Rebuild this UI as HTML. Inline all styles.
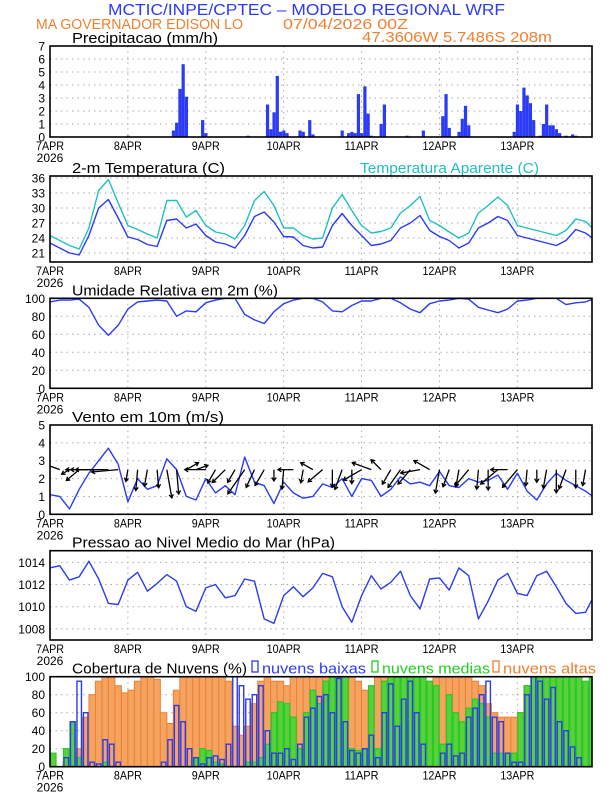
<!DOCTYPE html>
<html><head><meta charset="utf-8">
<style>
html,body{margin:0;padding:0;background:#fff;}
svg{display:block;font-family:"Liberation Sans",sans-serif;}
</style></head>
<body>
<svg id="chart" width="612" height="792" viewBox="0 0 612 792" xmlns="http://www.w3.org/2000/svg">
<defs><clipPath id="plotclip"><rect x="50" y="0" width="542" height="792"/></clipPath></defs>
<text x="108" y="15" fill="#2b3bf5" font-size="16" textLength="397" lengthAdjust="spacingAndGlyphs">MCTIC/INPE/CPTEC – MODELO REGIONAL WRF</text>
<text x="36" y="29" fill="#f08030" font-size="15" textLength="207" lengthAdjust="spacingAndGlyphs">MA GOVERNADOR EDISON LO</text>
<text x="283" y="29" fill="#f08030" font-size="15" textLength="125" lengthAdjust="spacingAndGlyphs">07/04/2026 00Z</text>
<text x="362" y="42" fill="#f08030" font-size="15" textLength="190" lengthAdjust="spacingAndGlyphs">47.3606W 5.7486S 208m</text>
<g id="panels"></g>
</svg>
<script>
// ---------- DATA ----------
const dayLabels = ["7APR","8APR","9APR","10APR","11APR","12APR","13APR"];
const precipHours = [24,38,39,40,41,42,47,48,61,67,68,69,70,71,72,73,77,78,80,81,90,92,93,94,95,96,97,98,99,102,103,110,115,121,122,123,126,127,128,129,143,144,145,146,147,148,149,151,152,153,154,155,156,157,159,161,162];
const precipValues = [0.1,0.5,1.1,3.7,5.6,3.1,1.3,0.3,0.1,2.5,0.6,1.9,4.7,0.4,0.5,0.3,0.5,0.4,1.3,0.2,0.5,0.3,0.4,0.3,3.3,0.3,3.9,1.8,0.1,1.0,2.5,0.1,0.5,1.6,3.3,0.7,0.4,1.4,2.4,0.9,0.4,2.5,2.0,3.8,3.2,2.6,1.3,0.1,1.0,2.5,0.9,0.9,0.6,0.3,0.1,0.2,0.1];
const tempValues = [23,22,21,20.6,24.5,30,31.7,28,24.2,23.7,22.7,22.3,27.5,27.8,26,26.8,24.5,23.2,22.8,22,24.5,28.3,29.2,27.2,24.3,24.2,22.5,22,22.2,26.5,28.9,26.5,24.5,22.5,22.8,23.5,26,27,28.5,25.5,24.3,23.5,22,23,26,27,28.3,27.5,24.5,24,23.5,23,22.5,23.5,25.7,25,23.6];
const apparentValues = [24.5,23.5,22.5,21.8,26,33.5,35.7,31,26.5,25.7,24.8,24,31.5,31.5,28.2,29.5,26.5,25.2,24.8,23.8,26.5,31.5,33.3,30.5,26,26,24.5,23.8,24,30,32.7,29.5,26.5,25,25.3,26,29,30.5,32.3,27.5,26.5,25.2,24,25,29,30.5,32.2,30.5,26.5,26,25.5,25,24.5,25.5,27.8,27.3,25.5];
const humidityValues = [96,98,98,99,90,70,59,70,88,96,97,98,97,80,86,85,95,98,100,100,82,76,72,85,94,98,100,100,96,86,85,92,97,97,100,100,95,88,84,94,97,98,100,99,90,87,84,88,97,98,100,100,100,93,95,96,100];
const windSpeed = [1.1,1.0,0.3,1.4,2.3,3.0,3.7,2.8,0.7,2.0,1.4,1.6,3.1,2.5,1.0,0.8,2.0,1.2,1.6,1.1,3.2,1.8,1.6,0.6,1.8,1.2,0.9,1.0,1.7,1.5,2.0,1.0,2.0,1.9,1.0,1.4,2.1,1.7,1.8,1.6,2.4,1.6,1.5,2.0,1.8,1.9,2.2,1.4,2.3,1.3,0.8,1.7,2.3,1.9,1.6,1.3,0.9];
const windDirection = [190,200,150,140,180,180,180,175,100,95,100,85,80,85,-30,-20,180,120,135,120,125,115,120,90,95,180,100,-150,140,90,110,90,150,-160,-135,120,125,130,170,-150,100,110,100,130,95,90,140,180,130,95,90,100,90,110,90,100,95];
const pressureValues = [1013.5,1013.7,1012.4,1012.7,1014.1,1012.5,1010.3,1010.2,1012.4,1013.1,1011.4,1012.1,1012.9,1012.3,1010.0,1009.6,1011.7,1012.0,1010.8,1011.0,1012.5,1012.3,1008.9,1008.5,1011.0,1011.8,1010.9,1011.7,1013.0,1012.7,1010.0,1008.6,1011.0,1012.8,1011.6,1012.2,1013.2,1011.0,1009.8,1012.5,1012.6,1011.5,1013.5,1012.8,1008.9,1010.5,1012.4,1013.0,1011.2,1011.0,1012.8,1013.2,1011.8,1010.3,1009.4,1009.5,1011.2];
const cloudHigh = [0,0,5,8,20,55,80,95,100,100,90,82,85,95,100,100,97,60,48,85,100,100,100,100,100,100,100,95,45,35,45,70,95,100,95,95,90,100,100,100,100,100,
 100,100,100,100,100,95,85,80,100,100,100,100,100,100,95,92,90,100,100,100,100,100,100,95,90,70,60,55,55,55,60,90,90,90,90,90,90,90,90,90,85,80];
const cloudMid = [15,0,20,50,10,0,0,0,5,0,0,0,0,0,0,0,0,0,0,0,0,0,10,20,18,5,3,0,0,0,5,5,10,25,60,72,70,55,20,60,85,70,
 95,100,100,100,20,18,20,90,20,95,100,100,100,100,100,100,95,90,25,80,60,50,65,75,70,55,15,15,15,15,60,90,100,100,100,100,100,100,100,100,95,100];
const cloudLow = [0,0,10,50,95,60,5,3,30,25,5,0,0,0,0,0,0,5,30,68,50,20,10,3,10,12,8,25,100,90,75,80,90,40,15,15,20,8,25,55,65,78,
 80,60,98,50,18,15,20,35,10,60,92,45,75,95,60,25,0,0,15,25,12,15,55,65,80,95,55,50,15,5,5,80,100,95,75,88,50,40,22,10,0,0];

// ---------- AXES ----------
const X0 = 50, X1 = 592, PXH = 3.2455;
function xh(h){ return X0 + h*PXH; }
const NS = "http://www.w3.org/2000/svg";
const root = document.getElementById('panels');
function el(tag, attrs, parent){
  const e = document.createElementNS(NS, tag);
  for (const k in attrs) e.setAttribute(k, attrs[k]);
  (parent||root).appendChild(e);
  return e;
}
function mkY(top, bottom, vmin, vmax){ return v => bottom - (v - vmin)/(vmax - vmin)*(bottom - top); }

function panel(name, top, bottom, vmin, vmax, ticks, title, titleLen){
  const g = el('g', {});
  
  
  const y = mkY(top, bottom, vmin, vmax);
  ticks.forEach(t => {
    const yy = y(t);
    if (yy > top + 1 && yy < bottom - 1) {
      const l = el('line', {x1:X0, x2:X1, y1:yy, y2:yy, stroke:'#aaa', 'stroke-width':1, 'stroke-dasharray':'1.5,4'}, g);
      
      
    }
    const tl = el('text', {x:45, y:yy+4.5, 'text-anchor':'end', 'font-size':12, fill:'#000'}, g);
    tl.textContent = t;
    
    
  });
  dayLabels.forEach((d, i) => {
    const xx = xh(i*24);
    if (i > 0) {
      const l = el('line', {x1:xx, x2:xx, y1:top, y2:bottom, stroke:'#aaa', 'stroke-width':1, 'stroke-dasharray':'1.5,4'}, g);
      
      
    }
    const tl = el('text', {x:xx, y:bottom+13, 'text-anchor':'middle', 'font-size':12, fill:'#000', textLength: d.length>4?34:28, lengthAdjust:'spacingAndGlyphs'}, g);
    tl.textContent = d;
    
    
  });
  const yr = el('text', {x:50, y:bottom+25, 'text-anchor':'middle', 'font-size':12, fill:'#000'}, g);
  yr.textContent = '2026';
  
  
  const tt = el('text', {x:72, y:top-3, 'font-size':15, fill:'#000', textLength:titleLen, lengthAdjust:'spacingAndGlyphs'}, g);
  tt.textContent = title;
  
  
  const data = el('g', {'clip-path':'url(#plotclip)'}, g);
  
  
  return {g, data, y, top, bottom};
}
function frame(p, name){
  const r = el('rect', {x:X0, y:p.top, width:X1-X0, height:p.bottom-p.top, fill:'none', stroke:'#000', 'stroke-width':1.6}, p.g);
  
  
}
function line(p, vals, step, color, name){
  const pts = vals.map((v,i) => xh(i*step).toFixed(1) + ',' + p.y(v).toFixed(1)).join(' ');
  const l = el('polyline', {points:pts, fill:'none', stroke:color, 'stroke-width':1.4, 'stroke-linejoin':'round'}, p.data);
  
  
}

// Precip
const p1 = panel('precipitation', 46, 137, 0, 7, [0,1,2,3,4,5,6,7], 'Precipitacao (mm/h)', 146);
precipHours.forEach((h, i) => {
  const v = precipValues[i];
  const b = el('rect', {x:xh(h)-1.5, y:p1.y(v), width:3.2, height:p1.bottom - p1.y(v), fill:'#2b3bf5'}, p1.data);
  
  
});
frame(p1, 'precipitation');

// Temperature
const p2 = panel('temperature', 176, 262, 19.2, 36.4, [21,24,27,30,33,36], '2-m Temperatura (C)', 153);
const at = el('text', {x:360, y:173, 'font-size':15, fill:'#20c0c0', textLength:179, lengthAdjust:'spacingAndGlyphs'}, p2.g);
at.textContent = 'Temperatura Aparente (C)';


line(p2, apparentValues, 3, '#20c0c0', 'apparent-temperature-line');
line(p2, tempValues, 3, '#2b3bf5', 'temperature-line');
frame(p2, 'temperature');

// Humidity
const p3 = panel('humidity', 298.3, 388.3, 0, 100, [0,20,40,60,80,100], 'Umidade Relativa em 2m (%)', 206);
line(p3, humidityValues, 3, '#2b3bf5', 'humidity-line');
frame(p3, 'humidity');

// Wind
const p4 = panel('wind', 425, 514.3, 0, 5, [0,1,2,3,4,5], 'Vento em 10m (m/s)', 152);
line(p4, windSpeed, 3, '#2b3bf5', 'wind-speed-line');
const baseY = p4.y(2.5);
windSpeed.forEach((s, i) => {
  const bx = xh(i*3);
  const a = windDirection[i]*Math.PI/180;
  const L = 7 + s*7;
  const tx = bx + Math.cos(a)*L, ty = baseY + Math.sin(a)*L;
  const ag = el('g', {stroke:'#000', 'stroke-width':1.3, fill:'none'}, p4.data);
  
  
  el('line', {x1:bx, y1:baseY, x2:tx, y2:ty}, ag);
  const h1 = a + Math.PI*0.82, h2 = a - Math.PI*0.82;
  el('polyline', {points:`${tx+Math.cos(h1)*4},${ty+Math.sin(h1)*4} ${tx},${ty} ${tx+Math.cos(h2)*4},${ty+Math.sin(h2)*4}`}, ag);
});
frame(p4, 'wind');

// Pressure
const p5 = panel('pressure', 550.7, 640, 1007, 1015.05, [1008,1010,1012,1014], 'Pressao ao Nivel Medio do Mar (hPa)', 263);
line(p5, pressureValues, 3, '#2b3bf5', 'pressure-line');
frame(p5, 'pressure');

// Clouds
const p6 = panel('clouds', 676.7, 766.7, 0, 100, [0,20,40,60,80,100], 'Cobertura de Nuvens (%)', 175);
const bw = 2*PXH;
cloudHigh.forEach((v, i) => {
  const b = el('rect', {x:xh(i*2), y:p6.y(v), width:bw, height:p6.bottom-p6.y(v), fill:'#f4a460', stroke:'#f08030', 'stroke-width':1}, p6.data);
  
  
});
cloudMid.forEach((v, i) => {
  const b = el('rect', {x:xh(i*2)+0.5, y:p6.y(v), width:bw-1, height:p6.bottom-p6.y(v), fill:'#5ccf3c', stroke:'#22cc22', 'stroke-width':1.2}, p6.data);
  
  
});
cloudLow.forEach((v, i) => {
  const b = el('rect', {x:xh(i*2)+1, y:p6.y(v), width:bw-2, height:p6.bottom-p6.y(v), fill:'none', stroke:'#2b3bf5', 'stroke-width':1.4}, p6.data);
  
  
});
frame(p6, 'clouds');
const legend = [
  ['nuvens baixas', '#2b3bf5', 252, 104, 'legend-low-clouds'],
  ['nuvens medias', '#22cc22', 372, 108, 'legend-mid-clouds'],
  ['nuvens altas', '#f08030', 493, 93, 'legend-high-clouds']
];
legend.forEach(([t, c, x, w, n]) => {
  const lg = el('g', {}, p6.g);
  
  
  el('rect', {x:x, y:661, width:6, height:11, fill:'none', stroke:c, 'stroke-width':1.3}, lg);
  const tx = el('text', {x:x+10, y:673.5, 'font-size':15, fill:c, textLength:w, lengthAdjust:'spacingAndGlyphs'}, lg);
  tx.textContent = t;
});
</script>
</body></html>
